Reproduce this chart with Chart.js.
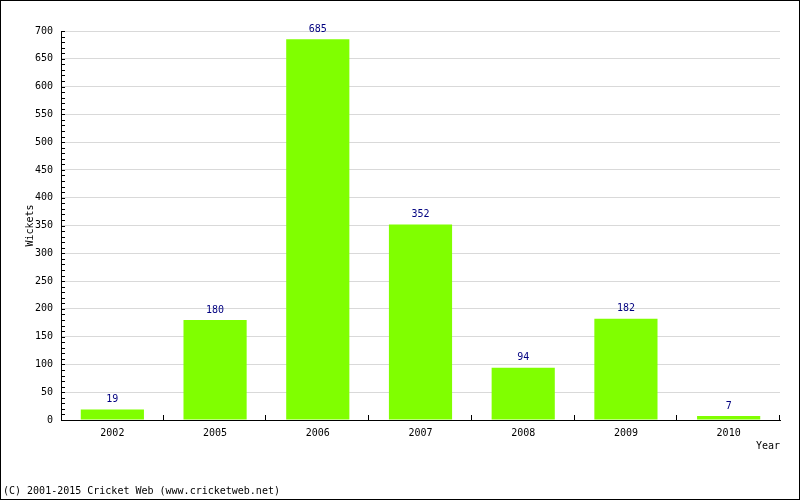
<!DOCTYPE html>
<html>
<head>
<meta charset="utf-8">
<script src="https://cdn.jsdelivr.net/npm/chart.js@4/dist/chart.umd.min.js"></script>
<style>
html,body{margin:0;padding:0;background:#fff;}
#wrap{width:800px;height:500px;}
</style>
</head>
<body>
<div id="wrap"><canvas id="c" width="800" height="500"></canvas></div>
<script>
const years = ["2002","2005","2006","2007","2008","2009","2010"];
const wickets = [19, 180, 685, 352, 94, 182, 7];
const yTitle = "Wickets";
const xTitle = "Year";
const footer = "(C) 2001-2015 Cricket Web (www.cricketweb.net)";

const FONT = "'DejaVu Sans Mono', monospace";

const extras = {
  id: 'extras',
  afterDraw(chart) {
    const ctx = chart.ctx;
    const x = chart.scales.x, y = chart.scales.y;
    const ca = chart.chartArea;
    ctx.save();
    ctx.strokeStyle = '#000';
    ctx.lineWidth = 1;
    // y minor ticks
    for (let v = 0; v <= 700; v += 10) {
      const py = Math.round(y.getPixelForValue(v)) + 0.5;
      ctx.beginPath();
      ctx.moveTo(ca.left, py);
      ctx.lineTo(ca.left + 4, py);
      ctx.stroke();
    }
    // x ticks at category boundaries
    for (let i = 1; i <= years.length; i++) {
      const px = Math.round(x.getPixelForValue(i - 0.5)) - 0.5;
      ctx.beginPath();
      ctx.moveTo(px, ca.bottom);
      ctx.lineTo(px, ca.bottom - 5);
      ctx.stroke();
    }
    // data labels
    ctx.font = '10px ' + FONT;
    ctx.fillStyle = '#000080';
    ctx.textAlign = 'center';
    ctx.textBaseline = 'middle';
    const meta = chart.getDatasetMeta(0);
    meta.data.forEach((bar, i) => {
      ctx.fillText(String(wickets[i]), bar.x, bar.y - 10);
    });
    // titles
    ctx.fillStyle = '#000';
    ctx.textAlign = 'right';
    ctx.fillText(xTitle, ca.right, 446);
    ctx.textAlign = 'left';
    ctx.fillText(footer, 3, 491);
    ctx.save();
    ctx.translate(30, (ca.top + ca.bottom) / 2);
    ctx.rotate(-Math.PI / 2);
    ctx.textAlign = 'center';
    ctx.fillText(yTitle, 0, 0);
    ctx.restore();
    // outer border
    ctx.strokeStyle = '#000';
    ctx.strokeRect(0.5, 0.5, 799, 499);
    ctx.restore();
  }
};

new Chart(document.getElementById('c'), {
  type: 'bar',
  data: {
    labels: years,
    datasets: [{
      data: wickets,
      backgroundColor: '#80ff00',
      borderWidth: 0,
      barPercentage: 0.615,
      categoryPercentage: 1.0
    }]
  },
  options: {
    responsive: false,
    animation: false,
    devicePixelRatio: 1,
    layout: { padding: { left: 0, top: 31, right: 20, bottom: 0 } },
    plugins: { legend: { display: false }, tooltip: { enabled: false } },
    scales: {
      x: {
        afterFit(s) { s.height = 80; },
        grid: { display: false, drawTicks: false },
        border: { display: true, color: '#000', width: 1 },
        ticks: { color: '#000', font: { family: FONT, size: 10 }, padding: 7, maxRotation: 0 }
      },
      y: {
        min: 0, max: 700,
        afterFit(s) { s.width = 61; },
        grid: { color: '#d9d9d9', drawTicks: false },
        border: { display: true, color: '#000', width: 1 },
        ticks: { stepSize: 50, color: '#000', font: { family: FONT, size: 10 }, padding: 8 }
      }
    }
  },
  plugins: [extras]
});
</script>
</body>
</html>
